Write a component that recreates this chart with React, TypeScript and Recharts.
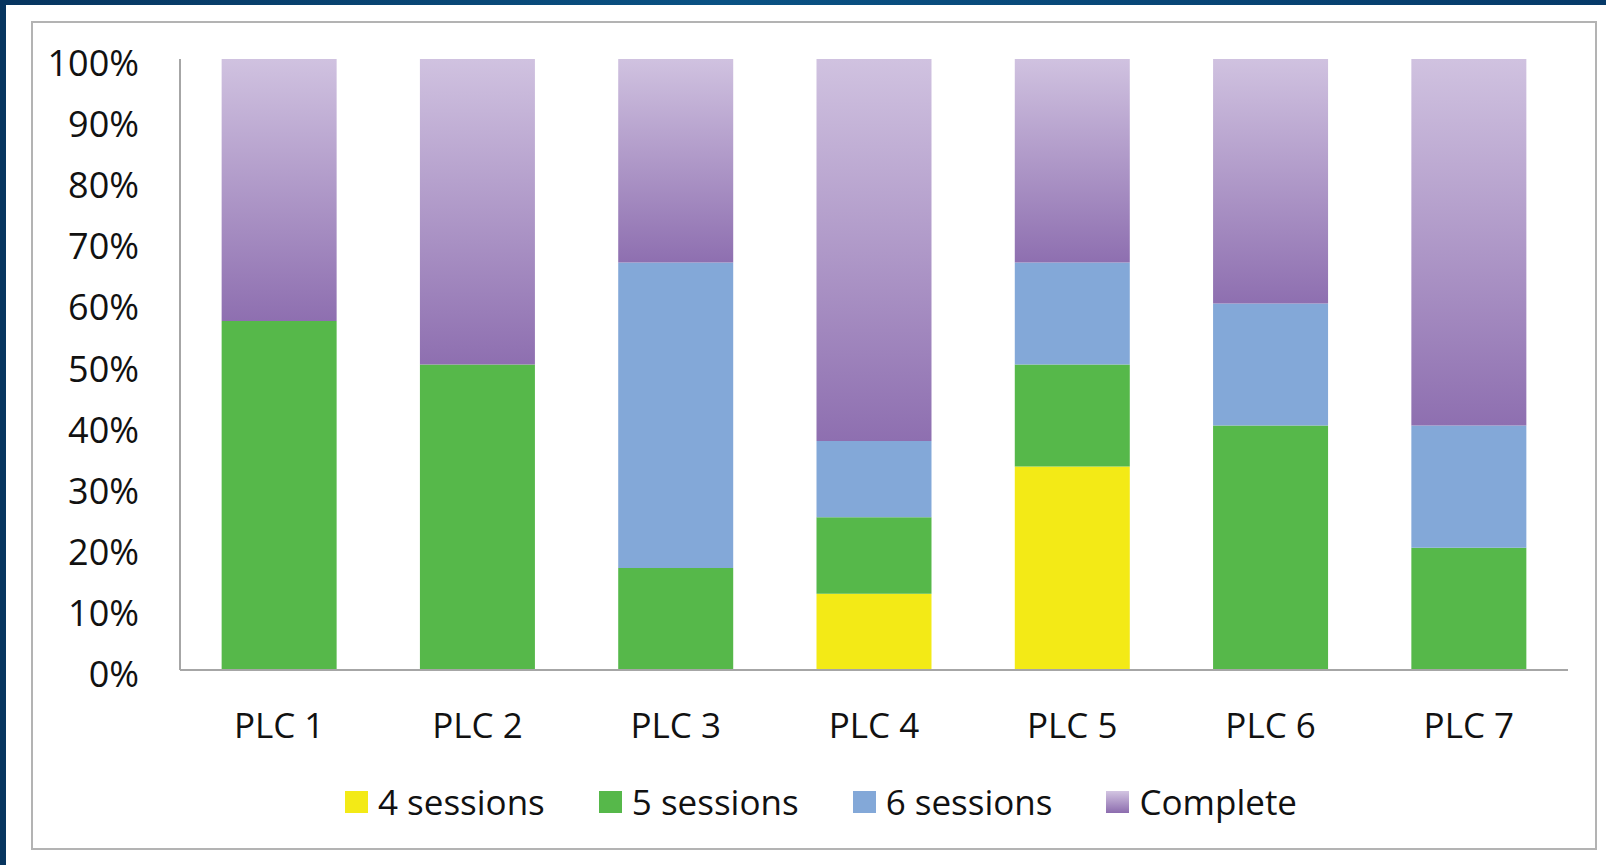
import React from 'react';
import { BarChart, Bar, XAxis, YAxis } from 'recharts';

// PLC attendance breakdown (percent of members)
const categories = ['PLC 1', 'PLC 2', 'PLC 3', 'PLC 4', 'PLC 5', 'PLC 6', 'PLC 7'];
const fourSessions = [0, 0, 0, 12.5, 33.3, 0, 0];
const fiveSessions = [57.1, 50, 16.7, 12.5, 16.7, 40, 20];
const sixSessions = [0, 0, 50, 12.5, 16.7, 20, 20];
const complete = [42.9, 50, 33.3, 62.5, 33.3, 40, 60];
const yTicks = [0, 10, 20, 30, 40, 50, 60, 70, 80, 90, 100];

const seriesNames = ['4 sessions', '5 sessions', '6 sessions', 'Complete'];

const data = categories.map((name, i) => ({
  name,
  four: fourSessions[i],
  five: fiveSessions[i],
  six: sixSessions[i],
  complete: complete[i],
}));

const FONT = '"Open Sans", sans-serif';

const legendSwatches = [
  '#f3ea16',
  '#56b84a',
  '#83a8d8',
  'linear-gradient(#d3c5e2, #8c6cae)',
];

const YTick = (props: any) => {
  const { x, y, payload } = props;
  return (
    <text x={x} y={y} dy={17} textAnchor="end" fontSize={36} fill="#111" fontFamily={FONT}>
      {payload.value}%
    </text>
  );
};

const XTick = (props: any) => {
  const { x, y, payload } = props;
  return (
    <text x={x} y={y} dy={68} textAnchor="middle" fontSize={35} fill="#111" fontFamily={FONT}>
      {payload.value}
    </text>
  );
};

const App: React.FC = () => {
  return (
    <div
      style={{
        position: 'absolute',
        left: 0,
        top: 0,
        width: 1606,
        height: 865,
        background: 'linear-gradient(90deg, #07355f, #0a5284 45%, #063a69)',
        overflow: 'hidden',
      }}
    >
      {/* white slide area */}
      <div style={{ position: 'absolute', left: 6, top: 5, width: 1600, height: 860, background: '#fff' }} />

      {/* chart frame */}
      <div
        style={{
          position: 'absolute',
          left: 31,
          top: 21,
          width: 1562,
          height: 825,
          border: '2px solid #b3b3b3',
        }}
      />

      <div style={{ position: 'absolute', left: 0, top: 0 }}>
        <BarChart
          width={1606}
          height={865}
          data={data}
          margin={{ top: 59, right: 38, bottom: 135, left: 60 }}
          barCategoryGap="21%"
        >
          <defs>
            <linearGradient id="completeGrad" x1="0" y1="0" x2="0" y2="1">
              <stop offset="0%" stopColor="#d0c2e0" />
              <stop offset="100%" stopColor="#8e6fb0" />
            </linearGradient>
          </defs>
          <XAxis
            dataKey="name"
            height={60}
            axisLine={{ stroke: '#a6a6a6', strokeWidth: 2 }}
            tickLine={false}
            tickSize={0}
            tickMargin={0}
            tick={<XTick />}
            interval={0}
          />
          <YAxis
            width={120}
            domain={[0, 100]}
            ticks={yTicks}
            axisLine={{ stroke: '#a6a6a6', strokeWidth: 2 }}
            tickLine={false}
            tickSize={0}
            tickMargin={41}
            tick={<YTick />}
            interval={0}
          />
          <Bar dataKey="four" stackId="a" fill="#f3ea16" isAnimationActive={false} />
          <Bar dataKey="five" stackId="a" fill="#56b84a" isAnimationActive={false} />
          <Bar dataKey="six" stackId="a" fill="#83a8d8" isAnimationActive={false} />
          <Bar dataKey="complete" stackId="a" fill="url(#completeGrad)" isAnimationActive={false} />
        </BarChart>
      </div>

      {/* legend */}
      <div
        style={{
          position: 'absolute',
          left: 38,
          width: 1566,
          top: 778,
          height: 48,
          display: 'flex',
          justifyContent: 'center',
          alignItems: 'center',
          fontFamily: FONT,
          fontSize: 35,
          lineHeight: '48px',
          color: '#111',
        }}
      >
        {seriesNames.map((name, i) => (
          <div
            key={name}
            style={{ display: 'flex', alignItems: 'center', marginRight: i < seriesNames.length - 1 ? 54 : 0 }}
          >
            <span style={{ width: 23, height: 22, background: legendSwatches[i], marginRight: 10, display: 'inline-block' }} />
            <span>{name}</span>
          </div>
        ))}
      </div>
    </div>
  );
};

export default App;
